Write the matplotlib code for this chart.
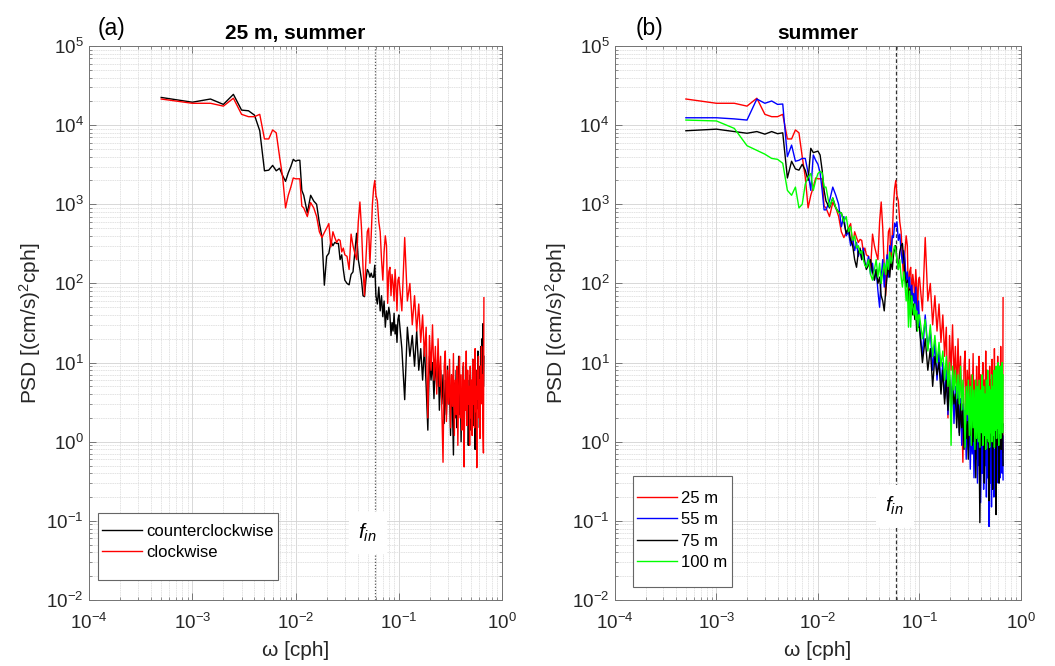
import numpy as np
import matplotlib
matplotlib.use("Agg")
import matplotlib.pyplot as plt
from matplotlib.patches import Rectangle
from matplotlib.ticker import LogLocator, LogFormatterSciNotation, NullFormatter

plt.rcParams["font.family"] = ["Liberation Sans", "DejaVu Sans"]
plt.rcParams["mathtext.fontset"] = "custom"
plt.rcParams["mathtext.rm"] = "Liberation Sans"
plt.rcParams["mathtext.it"] = "Liberation Sans:italic"
plt.rcParams["axes.unicode_minus"] = False

# Frequency grid: spectral bins of 0.0005 cph, thinned out at high frequency
df = 0.0005
bins = np.r_[np.arange(1, 25), np.arange(26, 61, 2), np.arange(63, 121, 3),
             np.arange(124, 197, 4), np.arange(200, 1335, 14)]
freq = df * bins

# Local inertial frequency [cph]
f_in = 0.0585

# 25 m, counterclockwise component
ccw_25 = [22400, 19500, 21400, 18300, 24500, 15500, 15200, 13400, 8500, 2650,
          2700, 3100, 2650, 2850, 2300, 1950, 2500, 3000, 3700, 3500, 3600, 3600, 1500, 1300,
          780, 1300, 1100, 1000, 580, 390, 95, 220, 240, 340, 300, 330, 320, 320, 200, 230, 150, 110,
          100, 96, 130, 140, 250, 430, 200, 150, 110, 70, 68, 110, 150, 140, 120, 135, 120, 120, 170, 70,
          55, 90, 45, 70, 38, 60, 28, 45, 35, 50, 40, 22, 32, 25, 42, 23, 30, 18, 35,
          40, 15, 3.4, 28, 12, 22, 9, 25, 8, 15,
          6, 16, 5, 1.4, 12, 6, 10, 3.5, 11, 5,
          13, 2.5, 8, 3, 7, 1.7, 6, 2.2, 9, 3,
          5, 1.2, 7, 2.5, 0.68, 5.5, 2, 8, 1.5, 4,
          12, 2.2, 6, 1.0, 4.5, 2.4, 9, 1.3, 5, 2.8,
          10, 1.8, 6, 0.9, 4, 2, 7, 1.4, 5, 2.5,
          11, 1.6, 6, 3, 0.8, 5, 2, 8, 2.6, 14,
          3, 6, 1.5, 9, 3.5, 16, 4, 20, 7, 31,
          5, 12]

# 25 m, clockwise component (also the 25 m curve of panel b)
cw_25 = [21400, 18900, 18900, 17400, 21900, 13700, 12800, 12800, 13700, 6700,
         6700, 8700, 8000, 4000, 2200, 900, 1300, 1650, 2150, 2100, 2100, 2100, 950, 900,
         700, 1050, 900, 700, 450, 380, 440, 500, 570, 290, 450, 380, 330, 360, 350, 250, 280, 230,
         220, 150, 420, 300, 240, 200, 600, 1070, 500, 160, 70, 200, 450, 500, 180, 400, 1000, 1600, 2000, 1300,
         1100, 600, 450, 200, 110, 250, 400, 300, 56, 140, 160, 70, 130, 100, 60, 150, 90, 45, 110,
         120, 45, 380, 60, 100, 30, 70, 25, 55, 18,
         40, 12, 28, 2.0, 22, 8, 30, 6, 16, 4,
         20, 5, 12, 2.5, 0.55, 9, 14, 1.8, 8, 3,
         11, 1.5, 7, 2.8, 13, 1.2, 6, 2.2, 9, 0.9,
         5, 12, 2, 7, 1.4, 4.5, 10, 0.48, 6, 2.5,
         14, 1.6, 8, 3, 5, 0.9, 9, 2, 6, 1.2,
         11, 3, 7, 1.5, 15, 2.4, 5, 0.47, 8, 3.5,
         12, 2, 6, 1.1, 9, 3, 16, 4, 7, 1.3,
         0.72, 66]

# 55 m
psd_55 = [12400, 12400, 12000, 11600, 21400, 18900, 20200, 18300, 18500, 4000,
          5600, 3500, 3600, 3800, 3800, 2500, 1500, 4200, 3600, 3200, 2500, 1500, 850, 850,
          1100, 1650, 1300, 1000, 520, 700, 400, 450, 300, 380, 260, 330, 220, 260, 200, 280, 180, 160,
          220, 130, 180, 110, 150, 80, 50, 120, 200, 90, 150, 230, 120, 300, 250, 400, 380, 580, 520, 600,
          350, 420, 250, 180, 260, 200, 110, 140, 90, 120, 70, 95, 60, 75, 45, 90, 50, 35, 60,
          30, 12, 40, 15, 25, 8, 18, 6, 14, 5,
          10, 3.5, 8, 2.2, 6, 3, 7, 1.7, 5, 2,
          4.5, 1.3, 3.5, 0.9, 3, 1.2, 2.5, 0.6, 2.2, 0.8,
          2, 0.45, 1.6, 0.7, 1.9, 0.35, 1.4, 0.6, 1.7, 0.3,
          1.2, 0.5, 1.5, 0.17, 1.0, 0.4, 1.3, 0.25, 0.9, 0.5,
          1.4, 0.2, 0.8, 0.35, 1.1, 0.085, 0.7, 0.3, 1.2, 0.15,
          0.9, 0.4, 1.3, 0.2, 0.8, 0.35, 1.5, 0.25, 0.7, 0.45,
          1.6, 0.3, 1.0, 0.5, 1.8, 0.35, 1.1, 0.6, 2.0, 0.4,
          1.2, 0.33]

# 75 m
psd_75 = [8500, 8900, 8300, 7900, 8300, 7700, 8300, 7800, 8000, 2150,
          3500, 2800, 2700, 3200, 2700, 2000, 5100, 4500, 4600, 4700, 4200, 2700, 1500, 1100,
          900, 1200, 900, 800, 780, 600, 430, 500, 350, 300, 200, 160, 250, 280, 200, 250, 180, 150,
          170, 200, 140, 110, 150, 100, 120, 70, 60, 45, 80, 120, 180, 120, 200, 150, 230, 280, 300, 200,
          150, 250, 300, 320, 200, 130, 90, 110, 60, 85, 50, 70, 40, 55, 35, 45, 25, 35, 28,
          28, 10, 20, 8, 15, 5, 12, 7, 10, 4,
          8, 3, 6, 2.5, 7, 2, 5, 3, 4, 1.5,
          3.5, 1.2, 3, 1.5, 2.5, 0.8, 2.2, 1.1, 1.8, 0.6,
          2.5, 1.2, 2.0, 0.9, 2.8, 1.0, 1.8, 0.35, 2.2, 1.1,
          1.8, 1.0, 0.095, 1.5, 0.9, 2.0, 1.1, 1.6, 0.3, 2.0,
          1.2, 0.8, 1.6, 1.0, 1.9, 0.18, 1.4, 0.9, 1.8, 1.1,
          1.5, 0.25, 2.0, 0.9, 1.6, 1.0, 2.1, 0.12, 1.5, 1.1,
          2.2, 0.9, 1.7, 0.3, 2.0, 1.2, 1.6, 0.8, 2.1, 1.3,
          1.7, 0.5]

# 100 m
psd_100 = [11600, 11300, 9100, 5500, 4800, 4300, 3800, 3700, 3300, 1500,
           1300, 1650, 900, 1000, 1800, 2200, 2450, 1500, 2000, 2450, 2600, 2500, 1650, 1650,
           930, 1200, 900, 780, 780, 600, 700, 450, 520, 350, 400, 280, 300, 240, 260, 200, 170, 160,
           200, 130, 110, 150, 200, 120, 180, 100, 140, 180, 130, 200, 150, 250, 180, 220, 260, 300, 260, 200,
           150, 200, 120, 90, 140, 100, 60, 100, 28, 80, 28, 70, 50, 40, 55, 35, 45, 25, 40,
           40, 20, 35, 14, 30, 12, 22, 10, 18, 9,
           14, 6, 12, 5, 10, 0.9, 9, 4.5, 8, 3.5,
           7, 3, 9, 2.5, 6, 3, 0.85, 5, 2.2, 6,
           1.2, 5, 0.9, 7, 1.5, 4.5, 0.8, 6, 1.1, 5,
           1.0, 6, 0.85, 4.5, 1.3, 7, 0.9, 5, 1.2, 4,
           0.8, 6, 1.1, 8, 1.0, 5, 0.85, 4.5, 1.3, 7,
           1.0, 5, 1.2, 8, 0.85, 6, 1.4, 9, 1.1, 5,
           1.5, 10, 0.9, 6, 1.3, 9, 1.1, 7, 1.8, 10,
           1.3, 7]

FS_TICK = 13.5
FS_LABEL = 15
FS_LEGEND = 12


def style_axes(ax, title, fin_y, fin_x, fin_ls, fin_color):
    ax.set_xscale("log")
    ax.set_yscale("log")
    ax.set_xlim(1e-4, 1)
    ax.set_ylim(1e-2, 1e5)
    for axis in (ax.xaxis, ax.yaxis):
        axis.set_major_locator(LogLocator(base=10, numticks=12))
        axis.set_minor_locator(LogLocator(base=10, subs=np.arange(2, 10), numticks=30))
        axis.set_major_formatter(LogFormatterSciNotation())
        axis.set_minor_formatter(NullFormatter())
    ax.grid(True, which="major", color="#d2d2d2", lw=0.6)
    ax.grid(True, which="minor", color="#dcdcdc", lw=0.55, ls=(0, (2, 1)))
    ax.set_axisbelow(True)
    ax.tick_params(which="both", direction="in", top=True, right=True,
                   colors="0.4", labelcolor="#262626", labelsize=FS_TICK)
    ax.tick_params(which="major", length=5, width=0.6)
    ax.tick_params(which="minor", length=2.5, width=0.5)
    ax.tick_params(axis="y", pad=4)
    ax.tick_params(axis="x", pad=9)
    for s in ax.spines.values():
        s.set_color("0.45")
        s.set_linewidth(0.7)
    ax.set_xlabel("ω [cph]", fontsize=FS_LABEL, color="#262626", labelpad=6)
    ax.set_ylabel("PSD [(cm/s)$^2$cph]", fontsize=FS_LABEL, color="#262626", labelpad=2)
    ax.set_title(title, fontsize=15, fontweight="bold", pad=5)
    ax.axvline(f_in, color=fin_color, ls=fin_ls, lw=0.9, zorder=1.5)
    ax.text(fin_x, fin_y, r"$f_{in}$", fontsize=15, ha="center", va="center",
            zorder=6, bbox=dict(fc="white", ec="none", pad=7))


def boxed_legend(ax, box, anchor, spacing):
    """Legend without its own frame, drawn over a fixed white box (axes fractions)."""
    x0, y0, x1, y1 = box
    ax.add_patch(Rectangle((x0, y0), x1 - x0, y1 - y0, transform=ax.transAxes,
                           facecolor="white", edgecolor="0.4", lw=0.8,
                           zorder=7, clip_on=False))
    leg = ax.legend(loc="upper left", bbox_to_anchor=anchor, borderaxespad=0,
                    borderpad=0, fontsize=FS_LEGEND, handlelength=2.4,
                    handletextpad=0.25, labelspacing=spacing, frameon=False)
    leg.set_zorder(8)
    return leg


fig = plt.figure(figsize=(10.55, 6.66), dpi=100)
ax1 = fig.add_axes([0.0844, 0.0991, 0.3915, 0.8318])
ax2 = fig.add_axes([0.5829, 0.0991, 0.3848, 0.8318])

# Panel (a): rotary components at 25 m
ax1.plot(freq, ccw_25, color="black", lw=1.0, label="counterclockwise", zorder=3)
ax1.plot(freq, cw_25, color="red", lw=1.0, label="clockwise", zorder=4)
style_axes(ax1, "25 m, summer", 0.07, 0.050, (0, (1, 1.5)), "0.35")
boxed_legend(ax1, (0.0218, 0.0361, 0.4576, 0.157), (0.0315, 0.1377), 0.39)

# Panel (b): clockwise spectra at four depths
ax2.plot(freq, cw_25, color="#ff0000", lw=1.0, label="25 m", zorder=3)
ax2.plot(freq, psd_55, color="#0000ff", lw=1.0, label="55 m", zorder=3)
ax2.plot(freq, psd_75, color="black", lw=1.0, label="75 m", zorder=3)
ax2.plot(freq, psd_100, color="#00ff00", lw=1.0, label="100 m", zorder=3)
style_axes(ax2, "summer", 0.155, 0.057, (0, (3, 2)), "0.2")
boxed_legend(ax2, (0.0443, 0.0235, 0.288, 0.2238), (0.0542, 0.1968), 0.38)

fig.text(98 / 1055, 1 - 35 / 666, "(a)", fontsize=16.5, va="baseline", ha="left")
fig.text(636 / 1055, 1 - 35 / 666, "(b)", fontsize=16.5, va="baseline", ha="left")

fig.savefig("out.png", dpi=100)
